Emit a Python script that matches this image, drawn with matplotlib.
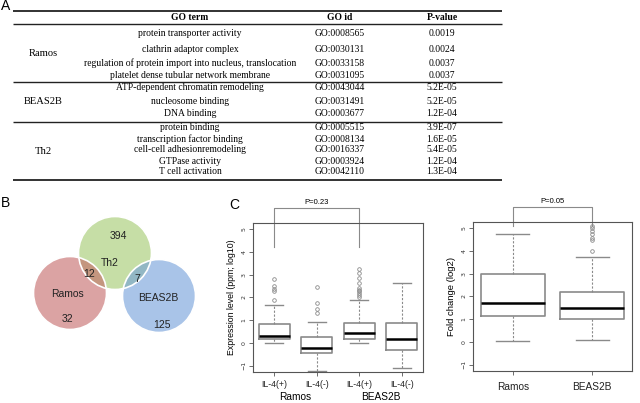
import matplotlib

matplotlib.use("Agg")

import matplotlib.pyplot as plt
from matplotlib.patches import Circle

# ---- panel A: GO table ----
groups = ["Ramos", "BEAS2B", "Th2"]
go_terms = [
    ["protein transporter activity", "clathrin adaptor complex",
     "regulation of protein import into nucleus, translocation",
     "platelet dense tubular network membrane"],
    ["ATP-dependent chromatin remodeling", "nucleosome binding", "DNA binding"],
    ["protein binding", "transcription factor binding", "cell-cell adhesionremodeling",
     "GTPase activity", "T cell activation"],
]
go_ids = [
    ["GO:0008565", "GO:0030131", "GO:0033158", "GO:0031095"],
    ["GO:0043044", "GO:0031491", "GO:0003677"],
    ["GO:0005515", "GO:0008134", "GO:0016337", "GO:0003924", "GO:0042110"],
]
p_values = [
    ["0.0019", "0.0024", "0.0037", "0.0037"],
    ["5.2E-05", "5.2E-05", "1.2E-04"],
    ["3.9E-07", "1.6E-05", "5.4E-05", "1.2E-04", "1.3E-04"],
]

# ---- panel B: Venn counts ----
venn_only = {"Ramos": "32", "Th2": "394", "BEAS2B": "125"}
venn_shared = {"Ramos&Th2": "12", "Th2&BEAS2B": "7"}

# ---- panel C: box plot summaries ----
left_labels = ["IL-4(+)", "IL-4(-)", "IL-4(+)", "IL-4(-)"]
left_groups = ["Ramos", "BEAS2B"]
left_lo = [0.0, -1.22, 0.0, -1.09]
left_q1 = [0.17, -0.44, 0.19, -0.29]
left_med = [0.32, -0.22, 0.44, 0.17]
left_q3 = [0.83, 0.25, 0.87, 0.87]
left_hi = [1.66, 0.92, 1.90, 2.62]
left_fliers = [
    [1.90, 2.26, 2.36, 2.48, 2.80],
    [1.31, 1.50, 1.75, 2.45],
    [2.01, 2.12, 2.19, 2.26, 2.33, 2.43, 2.65, 2.87, 3.06, 3.23],
    [],
]
left_p = "P=0.23"

right_labels = ["Ramos", "BEAS2B"]
right_lo = [0.04, 0.09]
right_q1 = [1.15, 1.02]
right_med = [1.70, 1.50]
right_q3 = [3.00, 2.18]
right_hi = [4.74, 3.72]
right_fliers = [[], [4.0, 4.47, 4.55, 4.74, 4.88, 5.0, 5.1]]
right_p = "P=0.05"

SERIF = "Liberation Serif"
SANS = "Liberation Sans"
GREY = "#8a8a8a"

fig = plt.figure(figsize=(6.4, 4.03), dpi=100)
ax0 = fig.add_axes([0, 0, 1, 1])
ax0.set_xlim(0, 640)
ax0.set_ylim(403, 0)
ax0.axis("off")

# panel letters
ax0.text(1, 6, "A", fontsize=10, family=SANS, va="center")
ax0.text(1, 203, "B", fontsize=10, family=SANS, va="center")
ax0.text(229, 205, "C", fontsize=10, family=SANS, va="center")

# table
x_left, x_right = 13, 502
x_grp, x_term, x_id, x_p = 43, 190, 340, 442
ax0.hlines(11, x_left, x_right, color="#222222", lw=1.3)
ax0.hlines(24, x_left, x_right, color="#222222", lw=1.0)
for x, s in [(x_term, "GO term"), (x_id, "GO id"), (x_p, "P-value")]:
    ax0.text(x, 18, s, fontsize=6.9, family=SERIF, weight="bold", ha="center", va="center")

row_y = [[33, 50, 63, 76], [88, 101, 113], [128, 139, 150, 161, 172]]
grp_y = [54, 102, 152]
sep_y = [82, 122, 180]
for g in range(len(groups)):
    ax0.text(x_grp, grp_y[g], groups[g], fontsize=7.6, family=SERIF, ha="center", va="center")
    for i, y in enumerate(row_y[g]):
        ax0.text(x_term, y, go_terms[g][i], fontsize=6.9, family=SERIF, ha="center", va="center")
        ax0.text(x_id, y, go_ids[g][i], fontsize=6.9, family=SERIF, ha="center", va="center")
        ax0.text(x_p, y, p_values[g][i], fontsize=6.9, family=SERIF, ha="center", va="center")
    ax0.hlines(sep_y[g], x_left, x_right, color="#222222", lw=1.3 if g == 2 else 1.0)

# venn
circ = {"Th2": ((115, 253), "#a0c86b"), "Ramos": ((70, 293), "#c36666"),
        "BEAS2B": ((159, 296), "#709ed9")}
for name in ["Th2", "Ramos", "BEAS2B"]:
    (cx, cy), col = circ[name]
    ax0.add_patch(Circle((cx, cy), 36.5, facecolor=col, alpha=0.6, edgecolor="none"))
for name in ["Th2", "Ramos", "BEAS2B"]:
    (cx, cy), col = circ[name]
    ax0.add_patch(Circle((cx, cy), 36.5, facecolor="none", edgecolor="white", lw=1.2))
vt = dict(fontsize=7.5, family=SANS, ha="center", va="center", color="#222222")
ax0.text(118, 236, venn_only["Th2"], **vt)
ax0.text(110, 263, "Th2", **vt)
ax0.text(89, 274, venn_shared["Ramos&Th2"], **vt)
ax0.text(137, 279, venn_shared["Th2&BEAS2B"], **vt)
ax0.text(68, 294, "Ramos", **vt)
ax0.text(67, 319, venn_only["Ramos"], **vt)
ax0.text(158, 298, "BEAS2B", **vt)
ax0.text(162, 325, venn_only["BEAS2B"], **vt)


def box_stats(lo, q1, med, q3, hi, fliers):
    return [dict(whislo=lo[i], q1=q1[i], med=med[i], q3=q3[i], whishi=hi[i], fliers=fliers[i])
            for i in range(len(med))]


def style_axes(ax):
    for sp in ax.spines.values():
        sp.set_color("#555555")
        sp.set_linewidth(0.8)
    ax.set_ylim(-1.27, 5.26)
    ax.set_yticks([-1, 0, 1, 2, 3, 4, 5])
    ax.tick_params(axis="y", labelsize=4.5, length=3, width=0.6, color="#555555",
                   labelcolor="#333333", pad=1.5, labelrotation=90)
    for lab in ax.get_yticklabels():
        lab.set_va("center")
    ax.tick_params(axis="x", length=3, width=0.6, color="#555555", pad=3,
                   labelcolor="#222222")


bxp_kw = dict(
    showfliers=True, patch_artist=False,
    boxprops=dict(color=GREY, lw=1.2),
    medianprops=dict(color="black", lw=1.8),
    whiskerprops=dict(color=GREY, lw=0.8, ls=(0, (2, 1.5))),
    capprops=dict(color=GREY, lw=1.0),
    flierprops=dict(marker="o", markersize=2.6, markerfacecolor="none",
                    markeredgecolor=GREY, markeredgewidth=0.6),
)

fh = 403.0
axL = fig.add_axes([253 / 640, 1 - 372 / fh, 170 / 640, 149 / fh])
axL.bxp(box_stats(left_lo, left_q1, left_med, left_q3, left_hi, left_fliers),
        positions=[1, 2, 3, 4], widths=0.74, capwidths=0.42, **bxp_kw)
axL.set_xlim(0.5, 4.5)
style_axes(axL)
axL.set_xticks([1, 2, 3, 4])
axL.set_xticklabels(left_labels, fontsize=6.3, family=SANS)
axL.set_ylabel("Expression level (ppm; log10)", fontsize=6.3, family=SANS, labelpad=4)
for x, g in zip([1.5, 3.5], left_groups):
    axL.annotate(g, (x, 0), xycoords=("data", "axes fraction"), xytext=(0, -18),
                 textcoords="offset points", ha="center", va="center", fontsize=7.3, family=SANS)
axL.plot([1, 1, 3, 3], [4.2, 5.92, 5.92, 4.2], color=GREY, lw=0.8, clip_on=False)
axL.text(2, 6.0, left_p, fontsize=5.5, family=SANS, ha="center", va="bottom")

axR = fig.add_axes([473 / 640, 1 - 371 / fh, 159 / 640, 149 / fh])
axR.bxp(box_stats(right_lo, right_q1, right_med, right_q3, right_hi, right_fliers),
        positions=[1, 2], widths=0.8, capwidths=0.42, **bxp_kw)
axR.set_xlim(0.5, 2.5)
style_axes(axR)
axR.set_xticks([1, 2])
axR.set_xticklabels(right_labels, fontsize=7.3, family=SANS)
axR.tick_params(axis="x", pad=5)
axR.set_ylabel("Fold change (log2)", fontsize=6.8, family=SANS, labelpad=4)
axR.plot([1, 1, 2, 2], [5.1, 5.92, 5.92, 5.1], color=GREY, lw=0.8, clip_on=False)
axR.text(1.5, 6.0, right_p, fontsize=5.5, family=SANS, ha="center", va="bottom")

fig.savefig("out.png", dpi=100)
